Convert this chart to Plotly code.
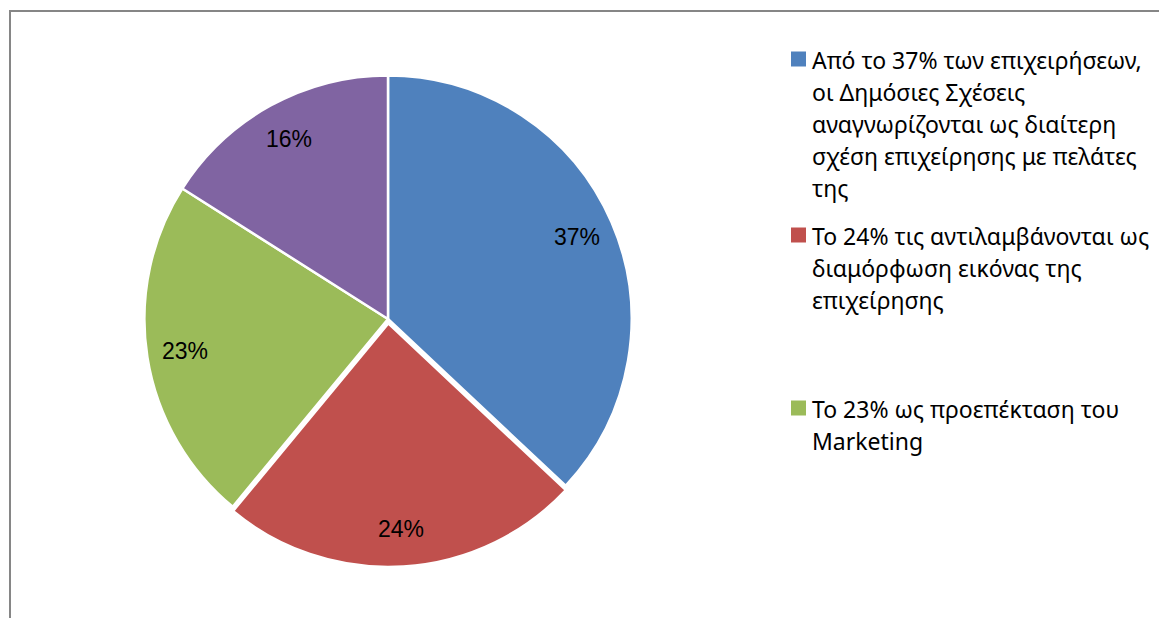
import math
import plotly.graph_objects as go

# ---- data ----
categories = [
    "Από το 37% των επιχειρήσεων, οι Δημόσιες Σχέσεις αναγνωρίζονται ως διαίτερη σχέση επιχείρησης με πελάτες της",
    "Το 24% τις αντιλαμβάνονται ως διαμόρφωση εικόνας της επιχείρησης",
    "Το 23% ως προεπέκταση του Marketing",
    "Το 16%",
]
values = [37, 24, 23, 16]
pct_labels = ["37%", "24%", "23%", "16%"]
legend_lines = [
    ["Από το 37% των επιχειρήσεων,", "οι Δημόσιες Σχέσεις", "αναγνωρίζονται ως διαίτερη",
     "σχέση επιχείρησης με πελάτες", "της"],
    ["Το 24% τις αντιλαμβάνονται ως", "διαμόρφωση εικόνας της", "επιχείρησης"],
    ["Το 23% ως προεπέκταση του", "Marketing"],
]
colors = ["#4F81BD", "#C0504D", "#9BBB59", "#8064A2"]
pulls = [0, 0.018, 0, 0]

# ---- layout constants ----
W, H = 1159, 618
CX, CY, RMAX = 388, 319, 248
R = RMAX / (1 + max(pulls))
LABEL_FR = 0.845
FONT = "Liberation Sans, Arial, sans-serif"
LEG_FONT = "Noto Sans, Arial, sans-serif"

fig = go.Figure()
fig.add_trace(go.Pie(
    labels=categories,
    values=values,
    sort=False,
    direction="clockwise",
    rotation=0,
    pull=pulls,
    marker=dict(colors=colors, line=dict(color="white", width=2.5)),
    textinfo="none",
    hoverinfo="label+percent",
    domain=dict(x=[(CX - RMAX) / W, (CX + RMAX) / W],
                y=[(H - (CY + RMAX)) / H, (H - (CY - RMAX)) / H]),
    showlegend=False,
))

annotations = []
total = sum(values)
cum = 0
for v, lab, p in zip(values, pct_labels, pulls):
    mid = (cum + v / 2) / total * 2 * math.pi
    cum += v
    rr = R * (LABEL_FR + p)
    px = CX + rr * math.sin(mid)
    py = CY - rr * math.cos(mid)
    annotations.append(dict(
        x=px / W, y=1 - py / H, xref="paper", yref="paper",
        text=lab, showarrow=False, xanchor="center", yanchor="middle",
        font=dict(family=FONT, size=23, color="#000000"),
    ))

# manual legend (only entries that fit are shown, as in the original)
shapes = []
LEG_X_TEXT = 810
LEG_SQ_X = 791
SQ = 15
first_line_y = [60, 236, 409]
LINE_H = 32
for i, lines in enumerate(legend_lines):
    y0 = first_line_y[i]
    shapes.append(dict(type="rect", xref="paper", yref="paper",
                       x0=LEG_SQ_X / W, x1=(LEG_SQ_X + SQ) / W,
                       y0=1 - (y0 - 1 + SQ / 2) / H, y1=1 - (y0 - 1 - SQ / 2) / H,
                       fillcolor=colors[i], line=dict(width=0)))
    for j, t in enumerate(lines):
        annotations.append(dict(
            x=LEG_X_TEXT / W, y=1 - (y0 + j * LINE_H) / H, xref="paper", yref="paper",
            text=t, showarrow=False, xanchor="left", yanchor="middle",
            font=dict(family=LEG_FONT, size=23, color="#000000"),
        ))

# chart area border
shapes.append(dict(type="rect", xref="paper", yref="paper",
                   x0=10 / W, x1=1.02, y0=-0.02, y1=1 - 11 / H,
                   line=dict(color="#868686", width=2), fillcolor="rgba(0,0,0,0)"))

fig.update_layout(
    width=W, height=H,
    margin=dict(l=0, r=0, t=0, b=0),
    paper_bgcolor="white", plot_bgcolor="white",
    annotations=annotations, shapes=shapes,
    showlegend=False,
)
fig.write_html("out.html")
